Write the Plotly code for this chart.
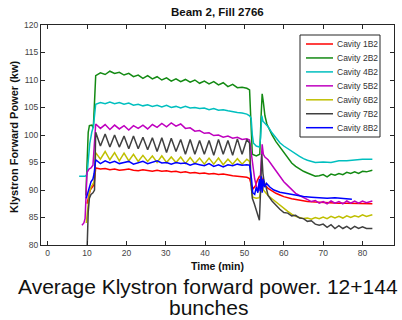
import plotly.graph_objects as go

# ---------------- data ----------------
SERIES_NAMES = ["Cavity 1B2", "Cavity 2B2", "Cavity 4B2", "Cavity 5B2",
                "Cavity 6B2", "Cavity 7B2", "Cavity 8B2"]
SERIES_COLORS = ["#ff0000", "#138a13", "#00bfbf", "#bf00bf",
                 "#bfbf00", "#404040", "#0000ff"]

X_TICKS = [0, 10, 20, 30, 40, 50, 60, 70, 80]
Y_TICKS = [80, 85, 90, 95, 100, 105, 110, 115, 120]

# shared sampling times of the stored-beam plateau (min)
T_PLATEAU = [12.2, 13.4, 14.6, 15.8, 17.0, 18.2, 19.4, 20.6, 21.8, 23.0, 24.2, 25.4,
             26.6, 27.8, 29.0, 30.2, 31.4, 32.6, 33.8, 35.0, 36.2, 37.4, 38.6, 39.8,
             41.0, 42.2, 43.4, 44.6, 45.8, 47.0, 48.2, 49.4, 50.6, 51.3]

# Cavity 1B2
time_1b2 = [10.0, 10.4, 10.8, 11.3, 11.8] + T_PLATEAU + [
    51.8, 52.3, 52.8, 53.3, 53.8, 54.3, 54.8, 55.3, 56.0, 57.0, 58.0, 59.0, 60.0,
    62.0, 64.0, 66.0, 68.0, 70.0, 72.0, 74.0, 76.0, 78.0, 80.0, 82.5]
power_1b2 = [87.5, 89.0, 90.0, 90.5, 91.0] + [
    94.0, 93.8, 93.9, 93.7, 93.8, 93.6, 93.7, 93.8, 93.6, 93.5, 93.7, 93.5,
    93.4, 93.6, 93.4, 93.5, 93.3, 93.4, 93.2, 93.3, 93.1, 93.2, 93.0, 93.1,
    92.9, 93.0, 92.8, 92.9, 92.7, 92.6, 92.5, 92.4, 92.3, 92.1] + [
    90.8, 90.3, 90.8, 91.8, 92.5, 92.3, 91.5, 90.8, 90.3, 89.8, 89.4, 89.1, 88.8,
    88.4, 88.1, 87.9, 87.8, 87.7, 87.7, 87.6, 87.6, 87.6, 87.5, 87.5]

# Cavity 2B2
time_2b2 = [9.7, 10.0, 10.3, 10.6, 11.2, 11.6] + T_PLATEAU + [
    51.7, 52.0, 53.0, 53.9, 54.2, 54.5, 54.8, 55.2, 55.7, 56.3, 57.0, 58.0, 59.0,
    60.0, 61.0, 62.0, 63.0, 64.0, 65.0, 66.0, 67.0, 68.0, 69.0, 70.0, 71.0, 72.0,
    73.0, 74.0, 75.0, 76.0, 77.0, 78.0, 79.0, 80.0, 81.0, 82.5]
power_2b2 = [89.0, 97.0, 100.5, 101.7, 101.8, 101.3] + [
    110.8, 111.3, 111.0, 111.6, 111.2, 111.4, 110.9, 111.2, 110.6, 110.9, 110.3, 110.8,
    110.2, 110.6, 110.0, 110.4, 109.8, 110.2, 109.7, 110.1, 109.6, 110.0, 109.4, 109.8,
    109.3, 109.7, 109.1, 109.5, 108.8, 109.2, 108.6, 108.7, 108.5, 108.2] + [
    102.0, 96.5, 96.2, 96.5, 103.0, 107.5, 106.0, 103.5, 102.0, 101.0, 100.0, 98.8, 97.8,
    96.8, 95.8, 94.9, 94.3, 93.8, 93.4, 93.1, 92.8, 92.5, 92.6, 92.8, 92.4, 92.9,
    92.7, 93.0, 92.8, 93.2, 93.0, 93.3, 93.0, 93.4, 93.3, 93.6]

# Cavity 4B2
time_4b2 = [8.0, 9.5, 10.0, 10.3, 10.7, 11.2, 11.6] + T_PLATEAU + [
    51.7, 52.0, 52.3, 53.0, 53.8, 54.1, 54.4, 54.7, 55.0, 55.5, 56.0, 57.0, 58.0,
    59.0, 60.0, 61.0, 62.0, 63.0, 64.0, 65.0, 66.0, 68.0, 70.0, 72.0, 74.0, 76.0,
    78.0, 80.0, 82.5]
power_4b2 = [92.5, 92.5, 92.8, 95.5, 98.5, 100.5, 101.5] + [
    105.6, 105.9, 105.7, 106.0, 105.7, 105.9, 105.6, 105.8, 105.4, 105.6, 105.3, 105.5,
    105.2, 105.4, 105.1, 105.4, 105.0, 105.2, 104.9, 105.2, 104.9, 105.0, 104.8, 104.9,
    104.6, 104.8, 104.5, 104.6, 104.4, 104.2, 104.1, 104.0, 103.8, 103.5] + [
    103.0, 100.0, 98.5, 98.0, 97.8, 99.5, 103.5, 102.5, 102.3, 102.0, 101.5, 100.4, 99.4,
    98.6, 98.0, 97.5, 97.0, 96.5, 96.1, 95.7, 95.4, 95.0, 95.1, 95.0, 95.3, 95.3,
    95.5, 95.6, 95.6]

# Cavity 5B2
time_5b2 = [8.7, 9.2, 9.5, 9.8, 10.0, 10.5, 11.0, 11.5] + T_PLATEAU + [
    51.7, 52.1, 52.6, 53.0, 53.5, 53.9, 54.2, 54.5, 54.8, 55.2, 56.0, 57.0, 58.0,
    59.0, 60.0, 61.0, 62.0, 63.0, 64.0, 65.0, 66.0, 67.0, 68.0, 69.0, 70.0, 71.0,
    72.0, 73.0, 74.0, 75.0, 76.0, 77.0, 78.0, 79.0, 80.0, 81.0, 82.5]
power_5b2 = [83.6, 84.0, 84.8, 90.0, 93.2, 93.8, 94.0, 94.5] + [
    102.0, 101.2, 101.9, 101.0, 101.8, 101.1, 101.7, 100.9, 101.7, 101.2, 101.8, 101.1,
    101.9, 101.4, 102.1, 101.5, 102.2, 101.6, 102.0, 101.2, 101.3, 100.7, 100.8, 100.3,
    100.4, 99.9, 100.0, 99.6, 99.8, 99.4, 99.6, 99.2, 99.3, 99.1] + [
    97.0, 94.0, 92.0, 90.8, 89.8, 90.5, 95.0, 98.3, 96.5, 96.0, 95.5, 94.6, 93.5,
    92.5, 91.5, 90.8, 90.0, 89.4, 89.0, 88.6, 88.3, 87.9, 88.1, 87.6, 87.9, 87.5,
    88.0, 87.6, 87.9, 87.5, 88.0, 87.6, 88.0, 87.6, 88.0, 87.7, 88.0]

# Cavity 6B2
time_6b2 = [9.8, 10.2, 10.6, 11.0, 11.5, 11.8] + T_PLATEAU + [
    51.8, 52.1, 53.0, 53.8, 54.2, 54.5, 54.8, 55.3, 56.0, 57.0, 58.0, 59.0, 60.0,
    61.0, 62.0, 63.0, 64.0, 65.0, 66.0, 67.0, 68.0, 69.0, 70.0, 71.0, 72.0, 73.0,
    74.0, 75.0, 76.0, 77.0, 78.0, 79.0, 80.0, 81.0, 82.5]
power_6b2 = [84.0, 87.5, 89.5, 90.5, 91.0, 91.5] + [
    96.8, 95.6, 97.0, 95.5, 96.8, 95.3, 96.7, 95.3, 96.5, 95.2, 96.3, 95.2,
    96.2, 95.0, 96.2, 95.0, 96.0, 95.0, 96.0, 94.8, 95.9, 94.8, 95.8, 94.7,
    95.8, 94.7, 95.8, 94.6, 95.6, 94.7, 95.7, 94.7, 95.6, 95.2] + [
    90.0, 88.7, 88.5, 88.6, 90.0, 91.5, 90.0, 89.5, 89.0, 88.4, 87.8, 87.2, 86.6,
    86.1, 85.6, 85.2, 85.0, 84.8, 84.9, 84.7, 85.0, 84.8, 85.1, 84.8, 85.2, 84.9,
    85.2, 84.9, 85.3, 85.0, 85.3, 85.1, 85.5, 85.2, 85.5]

# Cavity 7B2
time_7b2 = [10.0, 10.3, 10.6, 11.0, 11.5, 11.9] + T_PLATEAU + [
    51.7, 52.0, 52.5, 53.0, 53.5, 53.8, 54.1, 54.4, 54.7, 55.0, 55.5, 56.0, 57.0,
    58.0, 59.0, 60.0, 61.0, 62.0, 63.0, 64.0, 65.0, 66.0, 67.0, 68.0, 69.0, 70.0,
    71.0, 72.0, 73.0, 74.0, 75.0, 76.0, 77.0, 78.0, 79.0, 80.0, 81.0, 82.5]
power_7b2 = [79.0, 86.0, 88.5, 89.2, 89.5, 90.0] + [
    100.5, 98.0, 100.2, 97.8, 100.0, 97.8, 99.8, 97.5, 99.8, 97.5, 99.6, 97.3,
    99.5, 97.0, 99.5, 96.8, 99.4, 97.0, 99.2, 96.5, 99.2, 96.5, 99.0, 96.5,
    99.0, 96.3, 99.2, 96.5, 99.0, 96.3, 99.3, 96.5, 99.2, 98.5] + [
    91.0, 88.5, 87.5, 86.5, 85.5, 84.5, 90.0, 96.5, 93.0, 91.5, 90.5, 89.0, 88.0,
    87.2, 86.5, 85.9, 85.8, 85.3, 85.4, 84.9, 84.8, 84.3, 84.4, 83.8, 83.6, 83.8,
    83.2, 83.7, 83.0, 83.5, 83.0, 83.4, 82.9, 83.4, 83.0, 83.3, 83.0, 83.0]

# Cavity 8B2
time_8b2 = [9.8, 10.2, 10.6, 11.0, 11.5, 11.8] + T_PLATEAU + [
    51.8, 52.1, 52.6, 53.0, 53.4, 53.8, 54.0, 54.3, 54.5, 54.8, 55.1, 55.6, 56.5,
    57.5, 59.0, 61.0, 63.0, 65.0, 67.0, 69.0, 71.0, 73.0, 75.0, 77.3]
power_8b2 = [88.5, 89.5, 90.5, 91.5, 92.0, 93.0] + [
    95.5, 94.8, 95.3, 94.9, 95.2, 94.8, 95.0, 95.2, 94.7, 95.0, 95.2, 94.8,
    95.0, 95.3, 94.9, 95.0, 94.7, 95.0, 94.8, 94.9, 94.5, 94.8, 94.6, 94.4,
    94.8, 94.3, 94.6, 94.2, 94.6, 94.4, 94.7, 94.5, 94.6, 94.5] + [
    92.0, 89.5, 89.2, 90.5, 89.5, 92.0, 89.8, 92.5, 89.5, 92.0, 90.5, 91.2, 90.5,
    90.0, 89.6, 89.3, 89.0, 88.8, 88.7, 88.6, 88.5, 88.6, 88.5, 88.3]

TIMES = [time_1b2, time_2b2, time_4b2, time_5b2, time_6b2, time_7b2, time_8b2]
POWERS = [power_1b2, power_2b2, power_4b2, power_5b2, power_6b2, power_7b2, power_8b2]

TITLE = "Beam 2, Fill 2766"
X_LABEL = "Time (min)"
Y_LABEL = "Klystron Forward Power (kw)"
CAPTION_1 = "Average Klystron forward power. 12+144"
CAPTION_2 = "bunches"

# ---------------- figure ----------------
W, H = 402, 320
ML, MR, MT, MB = 41, 8, 25, 75
PW, PH = W - ML - MR, H - MT - MB
FONT = "Liberation Sans, Arial, Helvetica, sans-serif"


def px_x(px):
    return (px - ML) / PW


def px_y(py):
    return (H - MB - py) / PH


fig = go.Figure()
for name, t, p, c in zip(SERIES_NAMES, TIMES, POWERS, SERIES_COLORS):
    fig.add_trace(go.Scatter(x=t, y=p, name=name, mode="lines",
                             line=dict(color=c, width=1.5), showlegend=False))

axis_common = dict(showgrid=False, zeroline=False, showline=True, linecolor="#262626",
                   linewidth=1, mirror="allticks", ticks="inside", ticklen=4,
                   tickcolor="#262626", tickfont=dict(family=FONT, size=8.5, color="#444444"))
fig.update_xaxes(range=[-1.7, 88], tickvals=X_TICKS, ticktext=[str(v) for v in X_TICKS],
                 **axis_common)
fig.update_yaxes(range=[80, 120], tickvals=Y_TICKS, ticktext=[str(v) for v in Y_TICKS],
                 **axis_common)

shapes = []
annotations = []

# legend box (drawn manually to match compact MATLAB legend)
lx0, lx1, ly0, ly1 = 300, 380, 35, 137
shapes.append(dict(type="rect", xref="paper", yref="paper", x0=px_x(lx0), x1=px_x(lx1),
                   y0=px_y(ly1), y1=px_y(ly0), line=dict(color="#262626", width=1),
                   fillcolor="white", layer="above"))
for i, (name, c) in enumerate(zip(SERIES_NAMES, SERIES_COLORS)):
    yc = 44 + i * 13.95
    shapes.append(dict(type="line", xref="paper", yref="paper", x0=px_x(306), x1=px_x(333),
                       y0=px_y(yc), y1=px_y(yc), line=dict(color=c, width=1.5), layer="above"))
    annotations.append(dict(text=name, xref="paper", yref="paper", x=px_x(335), y=px_y(yc),
                            xanchor="left", yanchor="middle", showarrow=False,
                            font=dict(family=FONT, size=8.5, color="#333333")))

annotations += [
    dict(text="<b>" + TITLE + "</b>", xref="paper", yref="paper", x=0.5, y=px_y(12),
         xanchor="center", yanchor="middle", showarrow=False,
         font=dict(family=FONT, size=11.5, color="#111111")),
    dict(text="<b>" + X_LABEL + "</b>", xref="paper", yref="paper", x=0.5, y=px_y(266),
         xanchor="center", yanchor="middle", showarrow=False,
         font=dict(family=FONT, size=10.5, color="#111111")),
    dict(text="<b>" + Y_LABEL + "</b>", xref="paper", yref="paper", x=px_x(14), y=px_y(137),
         xanchor="center", yanchor="middle", textangle=-90, showarrow=False,
         font=dict(family=FONT, size=11, color="#111111")),
    dict(text=CAPTION_1, xref="paper", yref="paper", x=px_x(208), y=px_y(286),
         xanchor="center", yanchor="middle", showarrow=False,
         font=dict(family=FONT, size=21, color="#111111")),
    dict(text=CAPTION_2, xref="paper", yref="paper", x=px_x(208), y=px_y(307),
         xanchor="center", yanchor="middle", showarrow=False,
         font=dict(family=FONT, size=21, color="#111111")),
]

fig.update_layout(width=W, height=H, autosize=False,
                  margin=dict(l=ML, r=MR, t=MT, b=MB, pad=0),
                  paper_bgcolor="white", plot_bgcolor="white",
                  font=dict(family=FONT), showlegend=False,
                  shapes=shapes, annotations=annotations)

fig.write_html("out.html", include_plotlyjs=True)
